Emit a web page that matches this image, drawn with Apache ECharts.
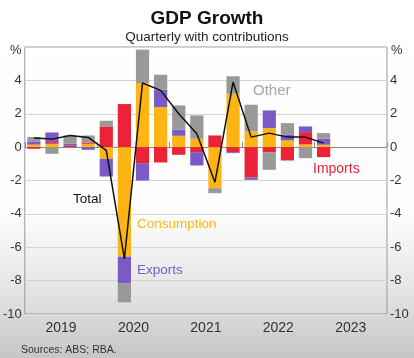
<!DOCTYPE html>
<html>
<head>
<meta charset="utf-8">
<script src="https://cdn.jsdelivr.net/npm/echarts@6/dist/echarts.min.js"></script>
<style>
html,body{margin:0;padding:0;}
#chart{width:414px;height:358px;}
</style>
</head>
<body>
<div id="chart"></div>
<script>
const quarters = ['2019Q1','2019Q2','2019Q3','2019Q4','2020Q1','2020Q2','2020Q3','2020Q4','2021Q1','2021Q2','2021Q3','2021Q4','2022Q1','2022Q2','2022Q3','2022Q4','2023Q1','2023Q2','2023Q3','2023Q4'];
const years = ['2019','2020','2021','2022','2023'];
const consumption = [0.15, 0.2, 0, 0.2, -0.7, -6.56, 3.84, 2.4, 0.68, 0.5, -2.46, 3.2, 0.94, 1.14, 0.4, 0.16, 0.14];
const imports = [-0.1, 0.1, 0.08, 0.08, 1.24, 2.58, -0.96, -0.92, -0.46, -0.3, 0.7, -0.3, -1.82, -0.32, -0.8, 0.74, -0.6];
const exportsC = [0.16, 0.58, 0.12, -0.16, -1.06, -1.6, -1.04, 1.04, 0.36, -0.8, 0, -0.06, -0.14, 1.06, 0.36, 0.34, 0.36];
const other = [0.3, -0.4, 0.5, 0.42, 0.34, -1.14, 2.0, 0.9, 1.46, 1.4, -0.3, 1.05, 1.6, -1.04, 0.68, -0.66, 0.34];
const total = [0.54, 0.48, 0.7, 0.58, -0.2, -6.7, 3.84, 3.4, 2.0, 0.8, -2.1, 3.9, 0.6, 0.84, 0.6, 0.6, 0.24];
const yTicks = [-10, -8, -6, -4, -2, 0, 2, 4, 6];

const FONT = '"Liberation Sans", Arial, sans-serif';
const COL = {cons:'#FDB515', imp:'#EC2338', exp:'#7B5AC6', oth:'#999999'};

const chart = echarts.init(document.getElementById('chart'));
const splitColors = yTicks.map(v => v === 0 ? '#8a8a8a' : '#d4d4d4');
const yLabel = v => (v === 6 ? '' : String(v));

function barSeries(name, data, color){
  return {name, type:'bar', stack:'gdp', data, xAxisIndex:0, yAxisIndex:0,
    barCategoryGap:'27%', itemStyle:{color}, emphasis:{disabled:true}, silent:true};
}

chart.setOption({
  animation:false,
  backgroundColor:{type:'linear', x:0, y:0, x2:0, y2:1, colorStops:[
    {offset:0, color:'#ffffff'},{offset:0.6, color:'#fdfdfd'},{offset:0.8, color:'#e6e6e6'},{offset:1, color:'#c6c6c6'}]},
  title:[
    {text:'GDP Growth', left:'center', top:4, textStyle:{fontFamily:FONT, fontSize:19, fontWeight:'bold', color:'#111'}},
    {text:'Quarterly with contributions', left:'center', top:25, textStyle:{fontFamily:FONT, fontSize:13.5, fontWeight:'normal', color:'#222'}}
  ],
  grid:{left:23, right:27, top:47, bottom:44, show:true, borderColor:'#999', borderWidth:1, backgroundColor:'transparent'},
  xAxis:[
    {type:'category', data:quarters, boundaryGap:true, axisLine:{show:false}, axisTick:{show:false}, axisLabel:{show:false}, splitLine:{show:false}},
    {type:'category', data:years, position:'bottom', boundaryGap:true,
      axisLine:{show:false}, axisTick:{show:true, inside:true, length:5, lineStyle:{color:'#888'}},
      axisLabel:{fontFamily:FONT, fontSize:14, color:'#333', margin:7}}
  ],
  yAxis:[
    {type:'value', min:-10, max:6, interval:2, position:'left',
      axisLine:{show:false}, axisTick:{show:false},
      axisLabel:{fontFamily:FONT, fontSize:13, color:'#333', margin:3, formatter:yLabel},
      splitLine:{show:true, lineStyle:{color:splitColors, width:1}}},
    {type:'value', min:-10, max:6, interval:2, position:'right',
      axisLine:{show:false}, axisTick:{show:false},
      axisLabel:{fontFamily:FONT, fontSize:13, color:'#333', margin:3, formatter:yLabel},
      splitLine:{show:false}}
  ],
  series:[
    barSeries('Consumption', consumption, COL.cons),
    barSeries('Imports', imports, COL.imp),
    barSeries('Exports', exportsC, COL.exp),
    barSeries('Other', other, COL.oth),
    {name:'Total', type:'line', data:total, xAxisIndex:0, yAxisIndex:0, symbol:'none', z:5,
      lineStyle:{color:'#111', width:1.5}, silent:true}
  ],
  graphic:[
    {type:'text', left:10, top:44, style:{text:'%', font:'13px '+FONT, fill:'#333'}},
    {type:'text', left:391, top:44, style:{text:'%', font:'13px '+FONT, fill:'#333'}},
    {type:'text', left:253, top:83, style:{text:'Other', font:'15px '+FONT, fill:'#a6a6a6'}},
    {type:'text', left:313, top:162, style:{text:'Imports', font:'14px '+FONT, fill:COL.imp}},
    {type:'text', left:73, top:192, style:{text:'Total', font:'13.5px '+FONT, fill:'#111'}},
    {type:'text', left:137, top:217, style:{text:'Consumption', font:'13.5px '+FONT, fill:COL.cons}},
    {type:'text', left:137, top:263, style:{text:'Exports', font:'13.5px '+FONT, fill:COL.exp}},
    {type:'text', left:21, top:345, style:{text:'Sources: ABS; RBA.', font:'10.5px '+FONT, fill:'#333'}}
  ]
});
</script>
</body>
</html>
